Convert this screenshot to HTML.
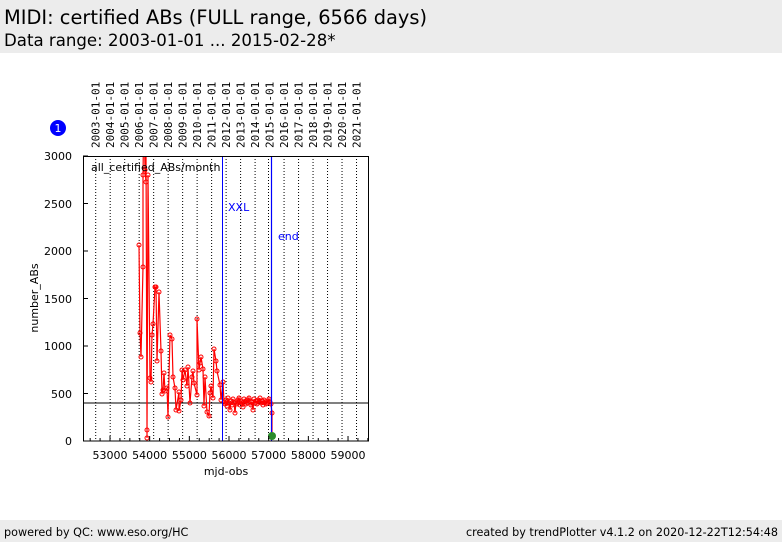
<!DOCTYPE html>
<html><head><style>
body{margin:0;width:782px;height:542px;background:#fff;font-family:"DejaVu Sans",sans-serif;overflow:hidden;position:relative}
.hdr{position:absolute;left:0;top:0;width:782px;height:53px;background:#ececec}
.ftr{position:absolute;left:0;top:520px;width:782px;height:22px;background:#ececec;font-size:11.2px}
</style></head><body>
<div class="hdr">
<div style="position:absolute;left:4px;top:6px;font-size:19.4px">MIDI: certified ABs (FULL range, 6566 days)</div>
<div style="position:absolute;left:4px;top:31px;font-size:16.6px">Data range: 2003-01-01 ... 2015-02-28*</div>
</div>
<div class="ftr"><span style="position:absolute;left:4px;top:6px">powered by QC: www.eso.org/HC</span><span style="position:absolute;right:4px;top:6px">created by trendPlotter v4.1.2 on 2020-12-22T12:54:48</span></div>
<svg width="782" height="542" style="position:absolute;left:0;top:0" font-family="DejaVu Sans, sans-serif">
<defs><clipPath id="c"><rect x="83" y="156" width="286" height="285"/></clipPath></defs>
<circle cx="58" cy="128" r="8" fill="#0000ff"/><text x="58" y="132" fill="#fff" font-size="11" text-anchor="middle">1</text>
<g id="yrs" stroke="#000" stroke-dasharray="1,2" stroke-width="1">
</g>
<g font-size="11" fill="#000" font-family="DejaVu Sans Mono, monospace" id="toplabels"></g>
<g clip-path="url(#c)">
<line x1="83" y1="403" x2="369" y2="403" stroke="#000"/>
<polyline id="pl" fill="none" stroke="#ff0000" stroke-width="1.2"/>
<g id="pts" fill="none" stroke="#ff0000" stroke-width="1"></g>
<line x1="222.5" y1="156" x2="222.5" y2="441" stroke="#0000ff"/>
<line x1="271.5" y1="156" x2="271.5" y2="441" stroke="#0000ff" stroke-width="1.2"/>
<circle cx="272" cy="436" r="4" fill="#2a8a2a"/>
</g>
<rect x="83.5" y="156.5" width="285" height="284.5" fill="none" stroke="#000"/>
<text x="91" y="171" font-size="11">all_certified_ABs/month</text>
<text x="228" y="211" font-size="11" fill="#0000ff">XXL</text>
<text x="278" y="240" font-size="11" fill="#0000ff">end</text>
<g font-size="11" text-anchor="end">
<text x="72" y="160">3000</text><text x="72" y="208">2500</text><text x="72" y="255">2000</text><text x="72" y="303">1500</text><text x="72" y="350">1000</text><text x="72" y="398">500</text><text x="72" y="445">0</text>
</g>
<g stroke="#000" id="yt"></g>
<g font-size="11" text-anchor="middle" id="xl"></g>
<g stroke="#000" id="xt"></g>
<text x="226" y="475" font-size="11" text-anchor="middle">mjd-obs</text>
<text x="38" y="298" font-size="11" text-anchor="middle" transform="rotate(-90 38 298)">number_ABs</text>
</svg>
<script>
var NS="http://www.w3.org/2000/svg";
function el(p,t,a,txt){var e=document.createElementNS(NS,t);for(var k in a)e.setAttribute(k,a[k]);if(txt)e.textContent=txt;document.getElementById(p).appendChild(e);}
for(var i=0;i<19;i++){var x=95.7+i*14.49;if(i!=12)el('yrs','line',{x1:x,y1:156,x2:x,y2:441});
el('toplabels','text',{x:0,y:0,transform:'translate('+(x+4)+',148) rotate(-90)'},(2003+i)+'-01-01');}
el('yrs','line',{x1:268.5,y1:156,x2:268.5,y2:441});
function X(m){return 110+(m-53000)*0.03967;}
for(var m=52500;m<=59500;m+=250){var x=X(m);var big=m%1000==0;el('xt','line',{x1:x,y1:441,x2:x,y2:big?436:438});
if(big)el('xl','text',{x:x,y:459},String(m));}
for(var v=0;v<=3000;v+=500){var y=441-v*0.095;el('yt','line',{x1:83,y1:y,x2:88,y2:y});}
var P=[[139,245],[140,333],[141,357],[143,267],[143,175],[144,100],[145,170],[146,182],[146,150],[147,430],[147,438],[148,175],[150,378],[151,382],[152,335],[153,324],[155,287],[156,287],[157,361],[159,292],[161,351],[162,394],[163,390],[164,373],[165,391],[167,388],[168,417],[170,335],[172,339],[173,377],[175,388],[176,410],[179,392],[179,411],[181,400],[182,370],[183,380],[185,370],[187,386],[188,367],[190,403],[192,377],[193,371],[194,383],[197,395],[197,319],[199,370],[200,363],[201,357],[203,369],[204,406],[205,377],[207,412],[209,416],[210,393],[211,386],[213,398],[214,349],[216,361],[217,371],[220,385],[221,400],[223,382]];
var y0=[402,404,400,406,398,403,410,401,405,399,403,413,402,404,400,398,405,401,403,407,399,402,404,400,403,398,401,405,402,410,399,403,401,404,400,402,398,403,401,405,400,402,404,403,401,399,402,404];
for(var i=0;i<y0.length;i++)P.push([224+i*1.0,y0[i]]);
P.push([272,413]);P.push([272,437]);
document.getElementById('pl').setAttribute('points',P.map(function(p){return p.join(',')}).join(' '));
P.forEach(function(p){el('pts','circle',{cx:p[0],cy:p[1],r:2});});
</script>
</body></html>
